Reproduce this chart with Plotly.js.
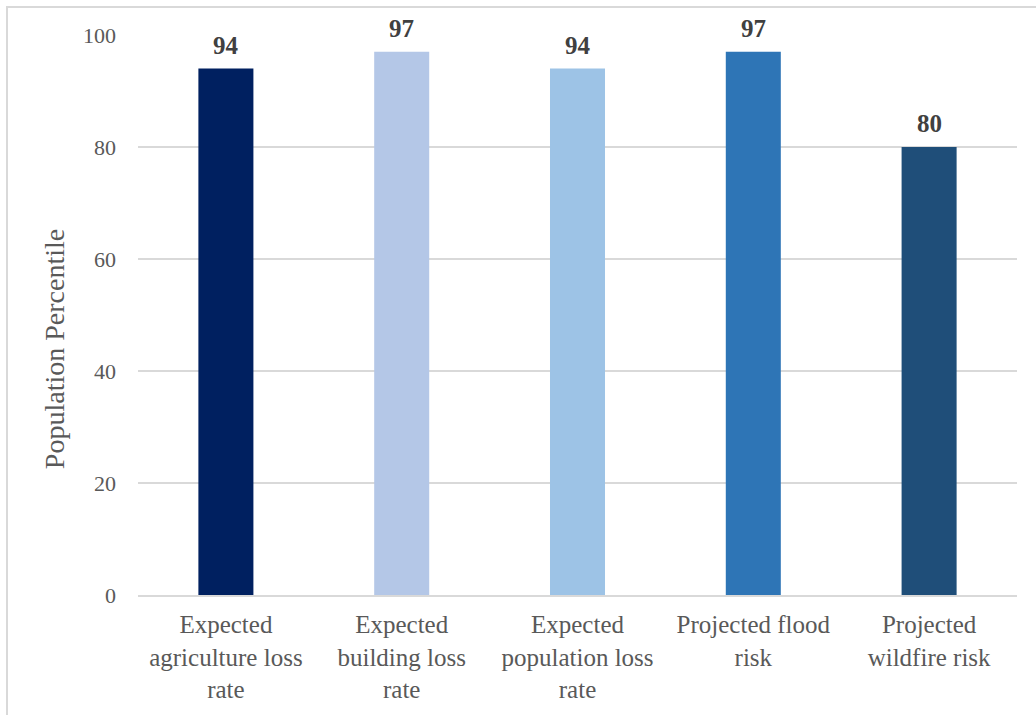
<!DOCTYPE html>
<html>
<head>
<meta charset="utf-8">
<script src="https://cdn.plot.ly/plotly-3.0.1.min.js"></script>
<style>
html,body{margin:0;padding:0;background:#fff;overflow:hidden;}
#frame{position:absolute;left:6px;top:6px;width:1040px;height:720px;border:2px solid #d9d9d9;box-sizing:border-box;pointer-events:none;z-index:5;}
#chart{position:absolute;left:0;top:0;width:1036px;height:715px;}
</style>
</head>
<body>
<div id="chart"></div>
<div id="frame"></div>
<script>
const categories = [
  "Expected<br>agriculture loss<br>rate",
  "Expected<br>building loss<br>rate",
  "Expected<br>population loss<br>rate",
  "Projected flood<br>risk",
  "Projected<br>wildfire risk"
];
const values = [94, 97, 94, 97, 80];
const barColors = ["#002060", "#B4C7E7", "#9DC3E6", "#2E75B6", "#1F4E79"];
const yTicks = [0, 20, 40, 60, 80, 100];
const yTitle = "Population Percentile";

const serif = "Liberation Serif, Times New Roman, serif";

const trace = {
  type: "bar",
  x: categories,
  y: values,
  marker: {color: barColors, line: {width: 0}},
  cliponaxis: false,
  hoverinfo: "none"
};

const valueLabels = categories.map((c, i) => ({
  x: c,
  y: values[i],
  xref: "x",
  yref: "y",
  text: "<b>" + values[i] + "</b>",
  showarrow: false,
  yanchor: "bottom",
  xanchor: "center",
  yshift: 6,
  bgcolor: "#ffffff",
  borderpad: 3,
  font: {family: serif, size: 25, color: "#404040"}
}));

const layout = {
  width: 1036,
  height: 715,
  margin: {l: 138, r: 19, t: 35, b: 120},
  paper_bgcolor: "#ffffff",
  plot_bgcolor: "#ffffff",
  bargap: 0.687,
  showlegend: false,
  font: {family: serif, color: "#595959"},
  xaxis: {
    type: "category",
    showline: true,
    linecolor: "#d9d9d9",
    linewidth: 2,
    ticks: "",
    ticklabelstandoff: 6,
    tickfont: {size: 25, color: "#595959"},
    automargin: false
  },
  yaxis: {
    range: [0, 100],
    tickvals: yTicks,
    ticktext: yTicks.map(String),
    showgrid: true,
    gridcolor: "#d9d9d9",
    gridwidth: 2,
    zeroline: false,
    showline: false,
    ticks: "",
    ticklabelstandoff: 21,
    tickfont: {size: 22, color: "#595959"},
    automargin: false
  },
  annotations: valueLabels.concat([{
    text: yTitle,
    xref: "paper",
    yref: "paper",
    x: -0.0956,
    y: 0.439,
    xanchor: "center",
    yanchor: "middle",
    textangle: -90,
    showarrow: false,
    font: {family: serif, size: 28, color: "#595959"}
  }])
};

Plotly.newPlot("chart", [trace], layout, {displayModeBar: false, staticPlot: true});
</script>
</body>
</html>
